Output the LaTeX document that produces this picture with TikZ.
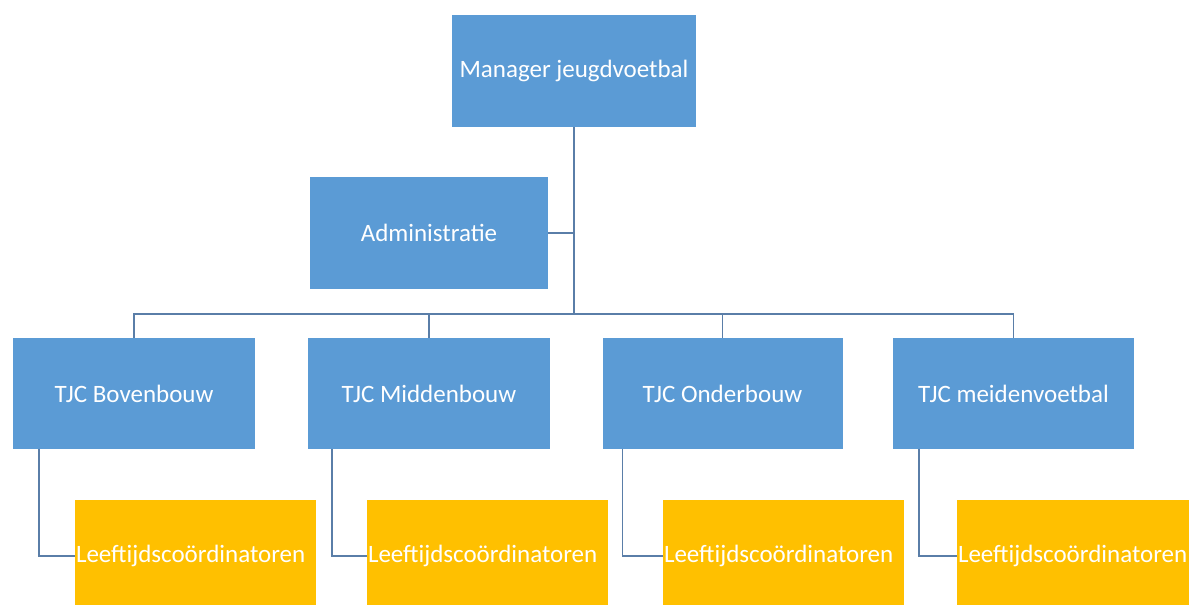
\documentclass[tikz,border=0pt]{standalone}
\usepackage{fontspec}
\setmainfont{Carlito}
\definecolor{boxblue}{HTML}{5B9BD5}
\definecolor{boxyellow}{HTML}{FFC000}
\definecolor{linecol}{HTML}{5A7EA8}
\begin{document}
\begin{tikzpicture}[x=1pt,y=-1pt,
  bluebox/.style={fill=boxblue,draw=none,inner sep=0pt,text=white,
    font=\fontsize{25}{30}\selectfont,align=center},
  yelbox/.style={fill=boxyellow,draw=none,inner sep=1pt,text=white,
    font=\fontsize{25}{30}\selectfont,minimum width=241pt,minimum height=112pt,
    text width=239pt,align=left},
  conn/.style={draw=linecol,line width=1.6pt}]
\useasboundingbox (0,0) rectangle (1189,605);
\clip (0,0) rectangle (1189,605);
\fill[white] (0,0) rectangle (1189,605);
% blue boxes
\node[bluebox,minimum width=244pt,minimum height=112pt] (man) at (574,71) {Manager jeugdvoetbal};
\node[bluebox,minimum width=238pt,minimum height=112pt] (adm) at (429,233) {Administratie};
\node[bluebox,minimum width=242pt,minimum height=111pt] (t1) at (134,393.5) {TJC Bovenbouw};
\node[bluebox,minimum width=242pt,minimum height=111pt] (t2) at (429,393.5) {TJC Middenbouw};
\node[bluebox,minimum width=240pt,minimum height=111pt] (t3) at (722.5,393.5) {TJC Onderbouw};
\node[bluebox,minimum width=241pt,minimum height=111pt] (t4) at (1013.5,393.5) {TJC meidenvoetbal};
% yellow boxes
\node[yelbox] (y1) at (195.5,556) {Leeftijdscoördinatoren};
\node[yelbox] (y2) at (487.5,556) {Leeftijdscoördinatoren};
\node[yelbox,minimum width=237pt] (y3) at (783.5,556) {Leeftijdscoördinatoren};
\node[yelbox] (y4) at (1077.5,556) {Leeftijdscoördinatoren};
% connectors
\coordinate (bus) at (574,314);
\draw[conn] (man.south) -- (bus);
\draw[conn] (adm.east) -- (adm.east -| bus);
\draw[conn] (bus) -| (t1.north);
\draw[conn] (bus) -| (t2.north);
\draw[conn] (bus) -| (t3.north);
\draw[conn] (bus) -| (t4.north);
\draw[conn] ([xshift=26pt]t1.south west) |- (y1.west);
\draw[conn] ([xshift=24pt]t2.south west) |- (y2.west);
\draw[conn] ([xshift=20pt]t3.south west) |- (y3.west);
\draw[conn] ([xshift=26pt]t4.south west) |- (y4.west);
\end{tikzpicture}
\end{document}
